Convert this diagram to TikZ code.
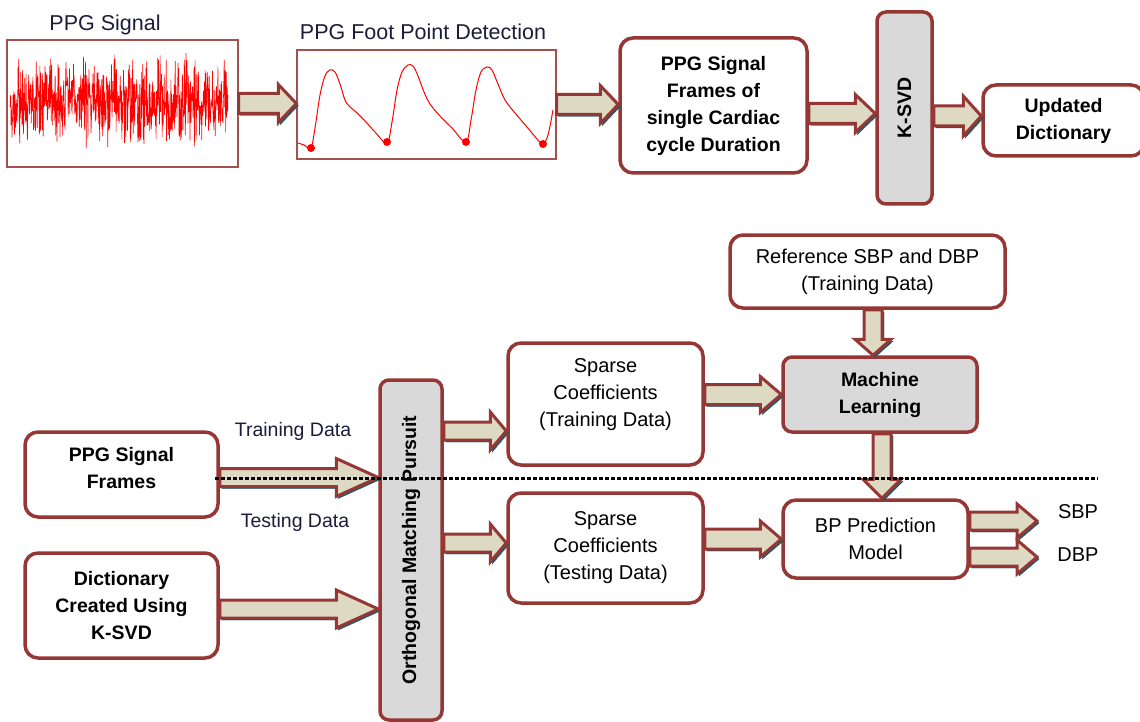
\documentclass[tikz,border=0pt]{standalone}
\usepackage{fontspec}
\setmainfont{Liberation Sans}
\usetikzlibrary{calc}
\definecolor{bord}{HTML}{953735}
\definecolor{afill}{HTML}{DDD9C3}
\definecolor{shad}{HTML}{215967}
\definecolor{gfill}{HTML}{D9D9D9}
\definecolor{sigb}{HTML}{A0524F}
\definecolor{labc}{HTML}{1C1C3A}
\tikzset{
  fatR/.style n args={3}{to path={let \p1=(\tikztostart), \p2=(\tikztotarget) in
    ({\x1},{\y1+#1pt}) -- ({\x2-#3pt},{\y1+#1pt}) -- ({\x2-#3pt},{\y1+#2pt}) -- ({\x2},{\y1})
    -- ({\x2-#3pt},{\y1-#2pt}) -- ({\x2-#3pt},{\y1-#1pt}) -- ({\x1},{\y1-#1pt}) -- cycle}},
  fatD/.style n args={3}{to path={let \p1=(\tikztostart), \p2=(\tikztotarget) in
    ({\x1-#1pt},{\y1}) -- ({\x1-#1pt},{\y2+#3pt}) -- ({\x1-#2pt},{\y2+#3pt}) -- ({\x1},{\y2})
    -- ({\x1+#2pt},{\y2+#3pt}) -- ({\x1+#1pt},{\y2+#3pt}) -- ({\x1+#1pt},{\y1}) -- cycle}},
}
\begin{document}
\begin{tikzpicture}[x=1pt,y=-1pt,
  rbox/.style={draw=bord,line width=3.5pt,rounded corners=13pt,fill=white,inner sep=0pt},
  gbox/.style={rbox,fill=gfill,rounded corners=9pt},
  sbox/.style={draw=sigb,line width=1.3pt,inner sep=0pt},
  btxt/.style={align=center,font=\fontsize{19.5}{27}\selectfont\bfseries,inner sep=0pt},
  ntxt/.style={align=center,font=\fontsize{20}{27}\selectfont,inner sep=0pt},
  lab/.style={font=\fontsize{19.5}{24}\selectfont,text=labc,inner sep=0pt},
  ttl/.style={font=\fontsize{21.5}{25}\selectfont,text=labc,inner sep=0pt},
  fat/.style={draw=bord,line width=3pt,fill=afill,line join=miter,
    preaction={fill=shad,draw=shad,transform canvas={shift={(2pt,-2pt)}}}},
  dotln/.style={line width=3pt,dash pattern=on 4pt off 2pt}
]
\useasboundingbox[fill=white] (0,0) rectangle (1140,722);

% ---------- top row ----------
\node[ttl] (t1) at (105,25) {PPG Signal};
\node[ttl] (t2) at (423,32) {PPG Foot Point Detection};
\node[sbox,minimum width=231,minimum height=127] (sig) at (122.5,103.5) {};
\node[sbox,minimum width=259,minimum height=109] (foot) at (426.5,104.5) {};
\node[rbox,btxt,minimum width=187,minimum height=135] (fr) at (713.5,105.5)
  {PPG Signal\\Frames of\\single Cardiac\\cycle Duration};
\node[gbox,minimum width=55,minimum height=192] (ksvd) at (904.5,108) {};
\node[btxt,rotate=90] (ksvdt) at (ksvd.center) {K-SVD};
\node[rbox,btxt,minimum width=161,minimum height=71] (upd) at (1063.5,120.5)
  {Updated\\Dictionary};

% noisy PPG signal
\pgfmathsetseed{11}
\draw[red,line width=0.6pt] plot[domain=10:228,samples=650] (\x,{101+30*rand+20*rand});

% foot point waveform
\draw[red,line width=1pt] plot[smooth,tension=0.55] coordinates {
 (298,143) (304,145) (311,148) (315,128) (320,95) (325,76) (330,70) (335,72) (340,84)
 (345,100) (350,107) (356,112) (365,121) (375,132) (387,143) (392,122) (397,90) (402,72)
 (408,65) (413,66) (418,76) (424,92) (430,104) (440,116) (452,128) (466,142) (471,120)
 (476,90) (481,72) (487,67) (492,70) (498,84) (505,100) (515,113) (527,127) (537,139)
 (543,144) (548,135) (553,110)};
\foreach \p in {(311,148),(387,142),(466,142),(543,144)} \fill[red] \p circle (4);

% top arrows
\draw[fat,fatR={10}{19}{18}] (sig.east) to (foot.west);
\draw[fat,fatR={10}{19}{18}] (foot.east) to (fr.west);
\draw[fat,fatR={10}{19}{20}] ([yshift=-8pt]fr.east) to (ksvd.west);
\draw[fat,fatR={10}{20}{18}] ([yshift=-8pt]ksvd.east) to (upd.west);

% ---------- lower part ----------
\node[rbox,ntxt,minimum width=275,minimum height=73] (ref) at (867.5,271.5)
  {Reference SBP and DBP\\(Training Data)};
\node[gbox,btxt,minimum width=194,minimum height=75] (ml) at (880,394.5)
  {Machine\\Learning};
\node[rbox,minimum width=195,minimum height=122] (sct) at (605.5,404) {};
\node[ntxt] (sctt) at ([yshift=9.5pt]sct.center)
  {Sparse\\Coefficients\\(Training Data)};
\node[rbox,ntxt,minimum width=195,minimum height=110] (sce) at (605.5,548)
  {Sparse\\Coefficients\\(Testing Data)};
\node[rbox,ntxt,minimum width=185,minimum height=78] (bp) at (875.5,539)
  {BP Prediction\\Model};
\node[gbox,minimum width=62,minimum height=340] (omp) at (411,550) {};
\node[btxt,rotate=90] (ompt) at (omp.center) {Orthogonal Matching Pursuit};
\node[rbox,minimum width=193,minimum height=85] (pf) at (121.5,474.5) {};
\node[btxt] (pft) at ([yshift=6pt]pf.center) {PPG Signal\\Frames};
\node[rbox,btxt,minimum width=193,minimum height=105] (dict) at (121.5,605.5)
  {Dictionary\\Created Using\\K-SVD};

\node[lab] (train) at (293,431) {Training Data};
\node[lab] (test) at (295,522) {Testing Data};
\node[ntxt,anchor=center] (sbp) at (1078,512) {SBP};
\node[ntxt,anchor=center] (dbp) at (1078,555) {DBP};
\coordinate (sbpend) at (1037,521);
\coordinate (dbpend) at (1037,557);

% lower arrows
\draw[fat,fatR={9}{19}{42}] ([yshift=-3pt]pf.east) to (omp.west);
\draw[fat,fatR={9}{19}{42}] ([yshift=-3.5pt]dict.east) to (omp.west);
\draw[fat,fatR={9}{19}{16}] ([yshift=-27pt]omp.east |- sct.west) to (sct.west);
\draw[fat,fatR={9}{19}{16}] ([yshift=5pt]omp.east |- sce.west) to (sce.west);
\draw[fat,fatR={10}{18}{21}] (sct.east |- ml.west) to (ml.west);
\draw[fat,fatR={10}{18}{21}] (sce.east |- bp.west) to (bp.west);
\draw[fat,fatR={9}{17}{20}] ([yshift=18pt]bp.east) to (sbpend);
\draw[fat,fatR={9}{17}{20}] ([yshift=-18pt]bp.east) to (dbpend);
\draw[fat,fatD={9}{18}{16}] ([xshift=5.5pt]ref.south) to (ml.north);
\draw[fat,fatD={9}{19}{19}] ([xshift=2pt]ml.south) to ([xshift=2pt]bp.north);

% dotted separator
\coordinate (dl) at (215,478);
\coordinate (dr) at (1098,478);
\draw[dotln] (dl) -- (dr);
\end{tikzpicture}
\end{document}
